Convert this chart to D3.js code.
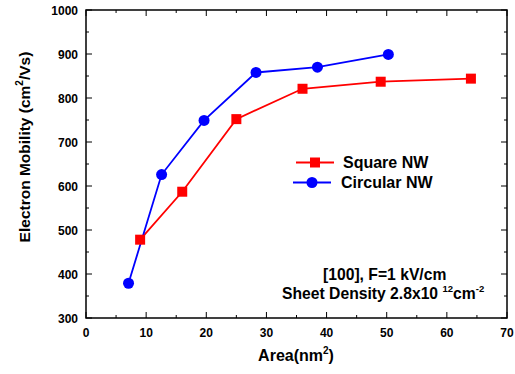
<!DOCTYPE html>
<html><head><meta charset="utf-8">
<script src="https://cdn.jsdelivr.net/npm/d3@7"></script>
<style>body{margin:0;background:#fff}svg{display:block}text{font-family:"Liberation Sans",Arial,sans-serif;font-weight:bold}</style>
</head><body>
<script>
const squareArea = [9, 16, 25, 36, 49, 64];
const squareMobility = [478, 587, 752, 821, 837, 844];
const circularArea = [7.07, 12.57, 19.63, 28.27, 38.48, 50.27];
const circularMobility = [379, 626, 749, 858, 870, 899];
const xTicks = [0, 10, 20, 30, 40, 50, 60, 70];
const yTicks = [300, 400, 500, 600, 700, 800, 900, 1000];
const seriesNames = ["Square NW", "Circular NW"];

const W = 515, H = 374;
const m = {l: 86, r: 8, t: 10, b: 56};
const svg = d3.select("body").append("svg").attr("width", W).attr("height", H);
const x = d3.scaleLinear().domain([0, 70]).range([m.l, 507]);
const y = d3.scaleLinear().domain([300, 1000]).range([318, 10]);

const minorX = d3.range(5, 70, 10), minorY = d3.range(350, 1000, 100);
const g = svg.append("g").attr("stroke", "#000").attr("stroke-width", 1);
xTicks.forEach(v => { g.append("line").attr("x1", x(v)).attr("x2", x(v)).attr("y1", y(300)).attr("y2", y(300) - 6);
  g.append("line").attr("x1", x(v)).attr("x2", x(v)).attr("y1", y(1000)).attr("y2", y(1000) + 6); });
minorX.forEach(v => { g.append("line").attr("x1", x(v)).attr("x2", x(v)).attr("y1", y(300)).attr("y2", y(300) - 3);
  g.append("line").attr("x1", x(v)).attr("x2", x(v)).attr("y1", y(1000)).attr("y2", y(1000) + 3); });
yTicks.forEach(v => { g.append("line").attr("x1", x(0)).attr("x2", x(0) + 6).attr("y1", y(v)).attr("y2", y(v));
  g.append("line").attr("x1", x(70)).attr("x2", x(70) - 6).attr("y1", y(v)).attr("y2", y(v)); });
minorY.forEach(v => { g.append("line").attr("x1", x(0)).attr("x2", x(0) + 3).attr("y1", y(v)).attr("y2", y(v));
  g.append("line").attr("x1", x(70)).attr("x2", x(70) - 3).attr("y1", y(v)).attr("y2", y(v)); });
svg.append("rect").attr("x", x(0)).attr("y", y(1000)).attr("width", x(70) - x(0)).attr("height", y(300) - y(1000))
  .attr("fill", "none").attr("stroke", "#000").attr("stroke-width", 1.5);

svg.selectAll(".xt").data(xTicks).enter().append("text").attr("x", d => x(d)).attr("y", 337)
  .attr("text-anchor", "middle").attr("font-size", 12).text(d => d);
svg.selectAll(".yt").data(yTicks).enter().append("text").attr("x", 78).attr("y", d => y(d) + 4.5)
  .attr("text-anchor", "end").attr("font-size", 12).text(d => d);

const xl = svg.append("text").attr("x", 296).attr("y", 361).attr("text-anchor", "middle").attr("font-size", 16);
xl.append("tspan").text("Area(nm");
xl.append("tspan").attr("font-size", 10).attr("dy", -7).text("2");
xl.append("tspan").attr("dy", 7).text(")");

const yl = svg.append("text").attr("transform", "translate(30,147) rotate(-90)").attr("text-anchor", "middle").attr("font-size", 15.5);
yl.append("tspan").text("Electron Mobility  (cm");
yl.append("tspan").attr("font-size", 10).attr("dy", -7).text("2");
yl.append("tspan").attr("dy", 7).text("/Vs)");

const line = d3.line().x(d => x(d[0])).y(d => y(d[1]));
const sq = squareArea.map((a, i) => [a, squareMobility[i]]);
const ci = circularArea.map((a, i) => [a, circularMobility[i]]);
svg.append("path").datum(sq).attr("d", line).attr("fill", "none").attr("stroke", "#ff0000").attr("stroke-width", 1.8);
svg.append("path").datum(ci).attr("d", line).attr("fill", "none").attr("stroke", "#0000ff").attr("stroke-width", 1.8);
svg.selectAll(".sq").data(sq).enter().append("rect").attr("x", d => x(d[0]) - 5).attr("y", d => y(d[1]) - 5)
  .attr("width", 10).attr("height", 10).attr("fill", "#ff0000");
svg.selectAll(".ci").data(ci).enter().append("circle").attr("cx", d => x(d[0])).attr("cy", d => y(d[1]))
  .attr("r", 5.5).attr("fill", "#0000ff");

svg.append("line").attr("x1", 296).attr("x2", 334).attr("y1", 162.5).attr("y2", 162.5).attr("stroke", "#ff0000").attr("stroke-width", 1.8);
svg.append("rect").attr("x", 310).attr("y", 157.5).attr("width", 10).attr("height", 10).attr("fill", "#ff0000");
svg.append("text").attr("x", 343).attr("y", 168).attr("font-size", 16).text(seriesNames[0]);
svg.append("line").attr("x1", 293).attr("x2", 331).attr("y1", 182.5).attr("y2", 182.5).attr("stroke", "#0000ff").attr("stroke-width", 1.8);
svg.append("circle").attr("cx", 312).attr("cy", 182.5).attr("r", 5.5).attr("fill", "#0000ff");
svg.append("text").attr("x", 341).attr("y", 188).attr("font-size", 16).text(seriesNames[1]);

svg.append("text").attr("x", 323).attr("y", 279.5).attr("font-size", 15.7).text("[100], F=1 kV/cm");
const an = svg.append("text").attr("x", 282).attr("y", 298.5).attr("font-size", 15.7);
an.append("tspan").text("Sheet Density 2.8x10 ");
an.append("tspan").attr("font-size", 9.5).attr("dy", -7).text("12");
an.append("tspan").attr("dy", 7).text("cm");
an.append("tspan").attr("font-size", 9.5).attr("dy", -7).text("-2");
</script>
</body></html>
